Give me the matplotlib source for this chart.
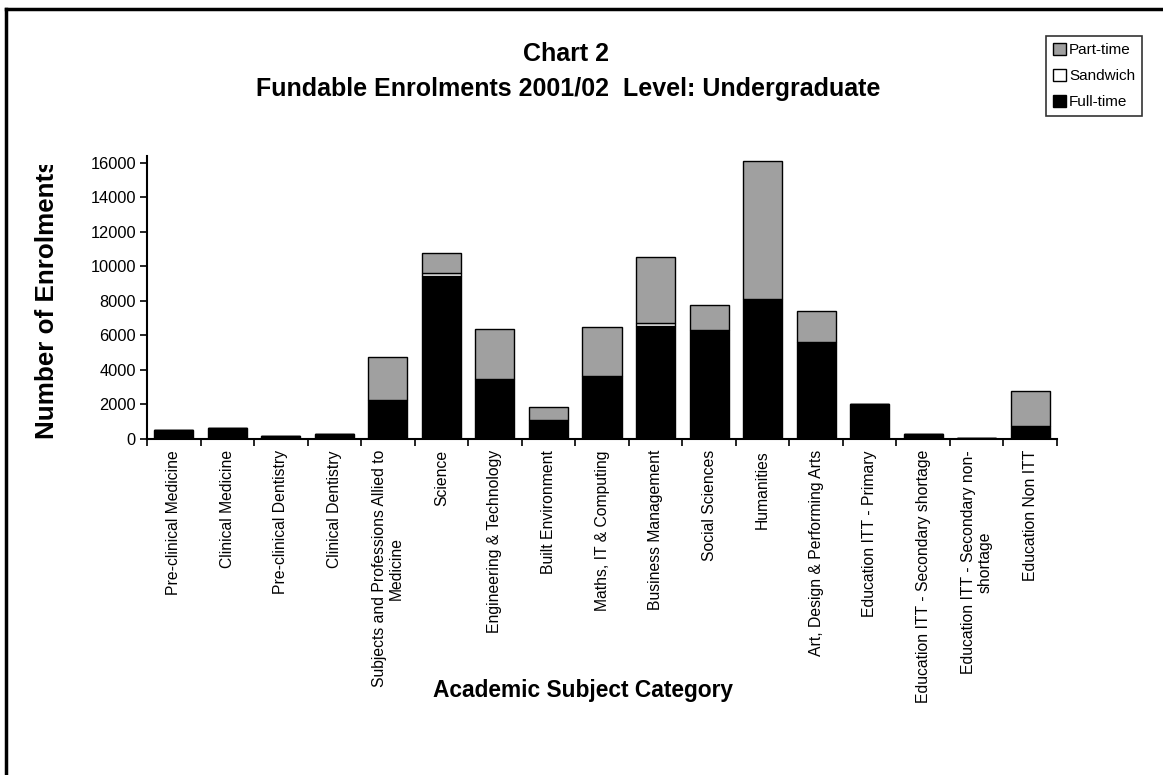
import numpy as np
import matplotlib
matplotlib.use("Agg")
import matplotlib.pyplot as plt
from matplotlib.patches import Patch, Rectangle
from matplotlib.lines import Line2D

plt.rcParams['font.family'] = ['Liberation Sans', 'DejaVu Sans']

categories = [
    'Pre-clinical Medicine', 'Clinical Medicine', 'Pre-clinical Dentistry',
    'Clinical Dentistry', 'Subjects and Professions Allied to\nMedicine',
    'Science', 'Engineering & Technology', 'Built Environment',
    'Maths, IT & Computing', 'Business Management', 'Social Sciences',
    'Humanities', 'Art, Design & Performing Arts', 'Education ITT - Primary',
    'Education ITT - Secondary shortage', 'Education ITT - Secondary non-\nshortage',
    'Education Non ITT'
]
full_time = [520, 635, 175, 290, 2250, 9450, 3500, 1100, 3620, 6560, 6290, 8120, 5600, 2000, 270, 80, 730]
sandwich = [0, 0, 0, 0, 0, 150, 0, 0, 0, 150, 0, 0, 0, 0, 0, 0, 0]
part_time = [0, 0, 0, 0, 2500, 1160, 2850, 770, 2870, 3820, 1470, 7960, 1790, 0, 0, 0, 2070]

W, H = 1163, 775
fig = plt.figure(figsize=(W / 100, H / 100), dpi=100)
# 16000 sits at ~276 px above the baseline; axis line runs a little higher
ax = fig.add_axes([147 / W, 1 - 439 / H, 910 / W, 276.3 * 16400 / 16000 / H])

x = np.arange(len(categories))
w = 0.73
ft = np.array(full_time)
sw = np.array(sandwich)
pt = np.array(part_time)

ax.bar(x, ft, w, color='black', edgecolor='black', linewidth=1)
ax.bar(x, sw, w, bottom=ft, color='white', edgecolor='black', linewidth=1)
ax.bar(x, pt, w, bottom=ft + sw, color='#a0a0a0', edgecolor='black', linewidth=1)

ax.set_xlim(-0.5, len(categories) - 0.5)
ax.set_ylim(0, 16400)
ax.set_yticks(np.arange(0, 16001, 2000))
ax.tick_params(axis='y', direction='out', length=5, width=1.2, labelsize=11.8, pad=3)

ax.set_xticks(x)
ax.set_xticklabels(categories, rotation=90, fontsize=11.3, ha='center', va='top',
                   multialignment='center')
ax.tick_params(axis='x', length=0, pad=8)
ax.set_xticks(np.arange(-0.5, len(categories)), minor=True)
ax.tick_params(axis='x', which='minor', direction='out', length=5, width=1.2)

for s in ['top', 'right']:
    ax.spines[s].set_visible(False)
for s in ['left', 'bottom']:
    ax.spines[s].set_linewidth(1.5)

fig.text(566 / W, 1 - 61 / H, 'Chart 2', ha='center', va='baseline',
         fontsize=18, fontweight='bold')
fig.text(568 / W, 1 - 96 / H, 'Fundable Enrolments 2001/02  Level: Undergraduate',
         ha='center', va='baseline', fontsize=18, fontweight='bold')

fig.text(583 / W, 1 - 697 / H, 'Academic Subject Category', ha='center',
         va='baseline', fontsize=16.4, fontweight='bold')

# y title is cut off at the top in the original
ylab = fig.text(47 / W, 1 - 439 / H, 'Number of Enrolments', rotation=90,
                ha='center', va='bottom', fontsize=18.7, fontweight='bold')
clip = Rectangle((0, 1 - 445 / H), 0.1, 280 / H, transform=fig.transFigure,
                 visible=False)
fig.add_artist(clip)
ylab.set_clip_path(clip)

handles = [Patch(facecolor='#a0a0a0', edgecolor='black'),
           Patch(facecolor='white', edgecolor='black'),
           Patch(facecolor='black', edgecolor='black')]
leg = fig.legend(handles, ['Part-time', 'Sandwich', 'Full-time'],
                 loc='upper left', bbox_to_anchor=(1046 / W, 1 - 36 / H),
                 fontsize=11, frameon=True, fancybox=False, handlelength=0.85,
                 handleheight=0.85, handletextpad=0.2, borderpad=0.45,
                 labelspacing=0.75, borderaxespad=0)
leg.get_frame().set_edgecolor('black')
leg.get_frame().set_linewidth(1.2)

fig.add_artist(Line2D([6 / W, 6 / W], [0, 1 - 9 / H], transform=fig.transFigure,
                      color='black', linewidth=2.5))
fig.add_artist(Line2D([6 / W, 1], [1 - 9 / H, 1 - 9 / H], transform=fig.transFigure,
                      color='black', linewidth=2.5))

fig.savefig('out.png', dpi=100)
